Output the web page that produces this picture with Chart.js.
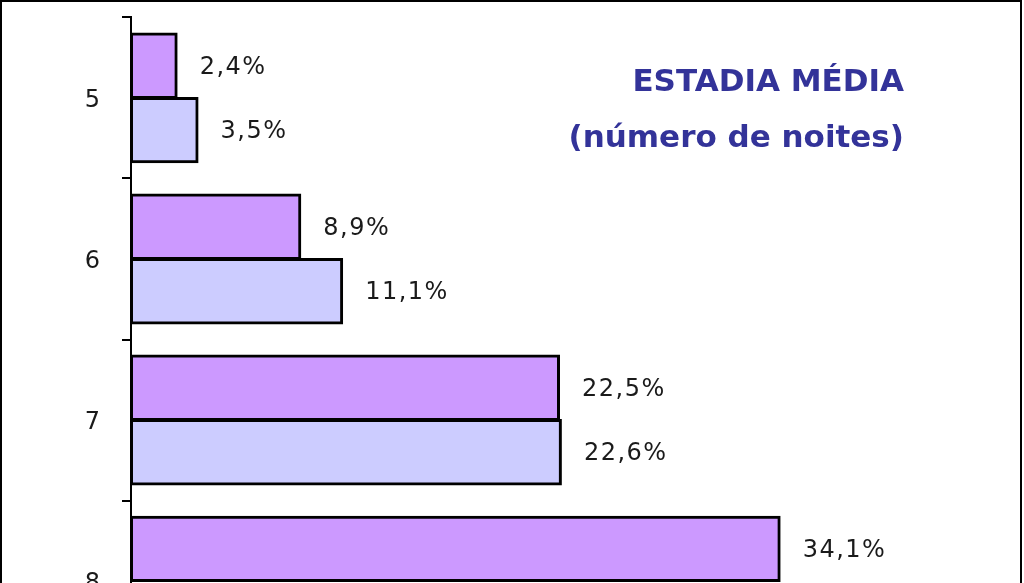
<!DOCTYPE html>
<html>
<head>
<meta charset="utf-8">
<script src="https://cdn.jsdelivr.net/npm/chart.js@4"></script>
<style>
  html, body { margin: 0; padding: 0; background: #fff; overflow: hidden; }
  body { width: 1024px; height: 583px; position: relative; }
  #wrap { position: absolute; left: 0; top: -19px; width: 1024px; height: 717px; }
  #frame {
    position: absolute; left: 0; top: 0; width: 1018px; height: 700px;
    border: 2px solid #000; pointer-events: none;
  }
  #title {
    position: absolute; right: 120px; top: 52px;
    font-family: "DejaVu Sans", sans-serif; font-weight: bold; font-size: 31px;
    line-height: 56px; text-align: right; color: #333399; white-space: nowrap;
  }
</style>
</head>
<body>
<div id="wrap"><canvas id="chart"></canvas></div>
<div id="frame"></div>
<div id="title">ESTADIA MÉDIA<br>(número de noites)</div>
<script>
// número de noites (categorias)
const categories = ['5', '6', '7', '8'];
// percentagens por série (a barra de baixo do 8 fica fora da imagem)
const seriesPurple = [2.4, 8.9, 22.5, 34.1];
const seriesLavender = [3.5, 11.1, 22.6, null];

const fontFamily = '"DejaVu Sans", sans-serif';

function formatPercent(value) {
  return value.toFixed(1).replace('.', ',') + '%';
}

// Plugin simples para escrever o valor ao lado de cada barra
const valueLabels = {
  id: 'valueLabels',
  afterDatasetsDraw(chart) {
    const { ctx } = chart;
    ctx.save();
    ctx.font = '24px ' + fontFamily;
    ctx.fillStyle = '#1a1a1a';
    ctx.textAlign = 'left';
    ctx.textBaseline = 'middle';
    ctx.letterSpacing = '1.5px';
    chart.data.datasets.forEach((dataset, i) => {
      const meta = chart.getDatasetMeta(i);
      meta.data.forEach((bar, j) => {
        const value = dataset.data[j];
        if (value === null || value === undefined) return;
        ctx.fillText(formatPercent(value), bar.x + 23, bar.y + 2);
      });
    });
    ctx.restore();
  },
};

new Chart(document.getElementById('chart'), {
  type: 'bar',
  data: {
    labels: categories,
    datasets: [
      {
        label: 'Série 1',
        data: seriesPurple,
        backgroundColor: '#CC99FF',
        borderColor: '#000',
        borderWidth: 3,
        borderSkipped: false,
        inflateAmount: 1,
        categoryPercentage: 0.8,
        barPercentage: 1.0,
      },
      {
        label: 'Série 2',
        data: seriesLavender,
        backgroundColor: '#CCCCFF',
        borderColor: '#000',
        borderWidth: 3,
        borderSkipped: false,
        inflateAmount: 1,
        categoryPercentage: 0.8,
        barPercentage: 1.0,
      },
    ],
  },
  options: {
    indexAxis: 'y',
    responsive: true,
    maintainAspectRatio: false,
    animation: false,
    layout: { padding: { top: 0, right: 37, bottom: 0, left: 0 } },
    plugins: {
      legend: { display: false },
      tooltip: { enabled: false },
      title: { display: false },
    },
    scales: {
      x: {
        display: false,
        min: 0,
        max: 45,
      },
      y: {
        afterFit(scale) {
          scale.width = 131;
        },
        border: { display: true, color: '#000', width: 2 },
        grid: {
          drawOnChartArea: false,
          drawTicks: true,
          tickLength: 9,
          color: '#000',
          lineWidth: 2,
        },
        ticks: {
          padding: 22,
          labelOffset: 3,
          color: '#1a1a1a',
          font: { family: fontFamily, size: 24 },
        },
      },
    },
  },
  plugins: [valueLabels],
});
</script>
</body>
</html>
